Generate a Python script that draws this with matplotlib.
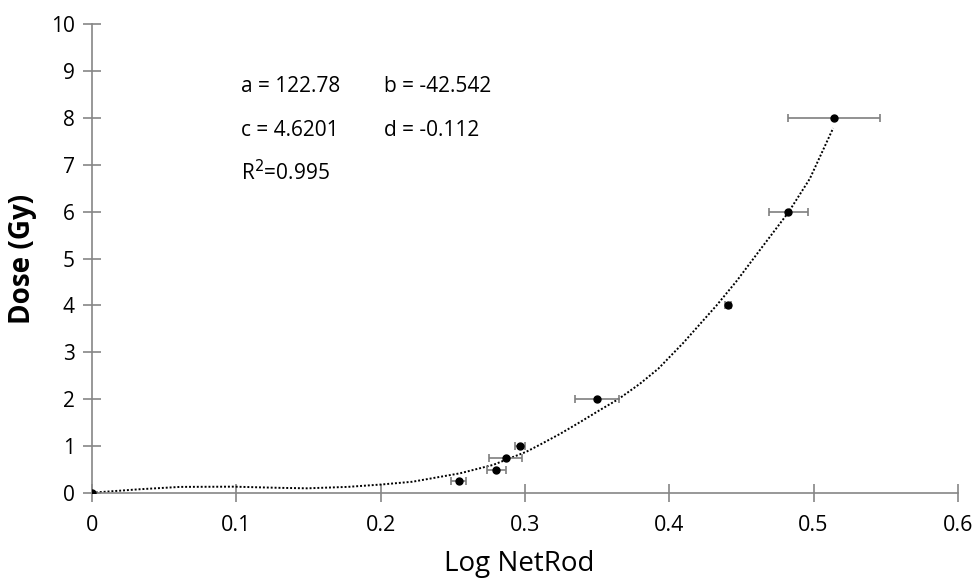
import matplotlib
matplotlib.use("Agg")
from matplotlib import pyplot as plt

# measured points (Log NetRod vs dose) with x error
netrod = [0.0, 0.2543, 0.2801, 0.2866, 0.2965, 0.350, 0.4405, 0.4825, 0.514]
dose = [0, 0.25, 0.5, 0.75, 1, 2, 4, 6, 8]
netrod_err = [0.0, 0.0052, 0.0067, 0.0116, 0.0037, 0.015, 0.002, 0.0135, 0.032]

# fitted curve
fit_x = [0, 0.006, 0.033, 0.061, 0.098, 0.130, 0.149, 0.177, 0.200, 0.222,
         0.255, 0.278, 0.301, 0.3104, 0.3243, 0.3381, 0.352, 0.3647, 0.3797,
         0.3924, 0.4097, 0.4328, 0.4467, 0.4628, 0.4825, 0.4974, 0.5136]
fit_y = [0, 0.02, 0.08, 0.13, 0.135, 0.11, 0.10, 0.13, 0.18, 0.24,
         0.42, 0.60, 0.88, 1.03, 1.26, 1.51, 1.77, 2.00, 2.33,
         2.65, 3.20, 4.00, 4.52, 5.18, 5.98, 6.70, 7.78]

params = ["a = 122.78", "b = -42.542", "c = 4.6201", "d = -0.112"]


def dose_pic():
    matplotlib.rc("font", family="Open Sans")
    fig = plt.figure(figsize=(9.75, 5.8), dpi=100)
    ax = fig.add_axes([0.0944, 0.15, 0.888, 0.8086])

    ax.plot(fit_x, fit_y, color="black", linestyle=(0, (1, 1)), lw=1.4, zorder=2)
    ax.errorbar(netrod, dose, xerr=netrod_err, fmt="o", color="black",
                ecolor="#7f7f7f", elinewidth=1.2, capsize=3, capthick=1.2,
                markersize=5, zorder=3)

    ax.set_xlim(0, 0.6)
    ax.set_ylim(0, 10)
    ax.set_xticks([0, 0.1, 0.2, 0.3, 0.4, 0.5, 0.6])
    ax.set_xticklabels(["0", "0.1", "0.2", "0.3", "0.4", "0.5", "0.6"])
    ax.set_yticks(range(0, 11))

    for s in ["top", "right"]:
        ax.spines[s].set_visible(False)
    for s in ["left", "bottom"]:
        ax.spines[s].set_color("#868686")
        ax.spines[s].set_linewidth(1.2)
    ax.tick_params(direction="inout", length=13, width=1.2, color="#868686",
                   labelsize=15, pad=6)
    ax.tick_params(axis="x", labelsize=15.5, pad=9)

    ax.set_xlabel("Log NetRod", fontsize=20)
    ax.set_ylabel("Dose (Gy)", fontsize=20, fontweight="bold")
    ax.xaxis.set_label_coords(0.493, -0.122)
    ax.yaxis.set_label_coords(-0.064, 0.5)

    # fit parameters
    ax.text(0.103, 8.66, params[0], fontsize=15, va="center")
    ax.text(0.202, 8.66, params[1], fontsize=15, va="center")
    ax.text(0.103, 7.74, params[2], fontsize=15, va="center")
    ax.text(0.202, 7.74, params[3], fontsize=15, va="center")
    ax.text(0.103, 6.84, "R$^2$=0.995", fontsize=15, va="center")

    fig.savefig("out.png", dpi=100)


if __name__ == '__main__':
    dose_pic()
